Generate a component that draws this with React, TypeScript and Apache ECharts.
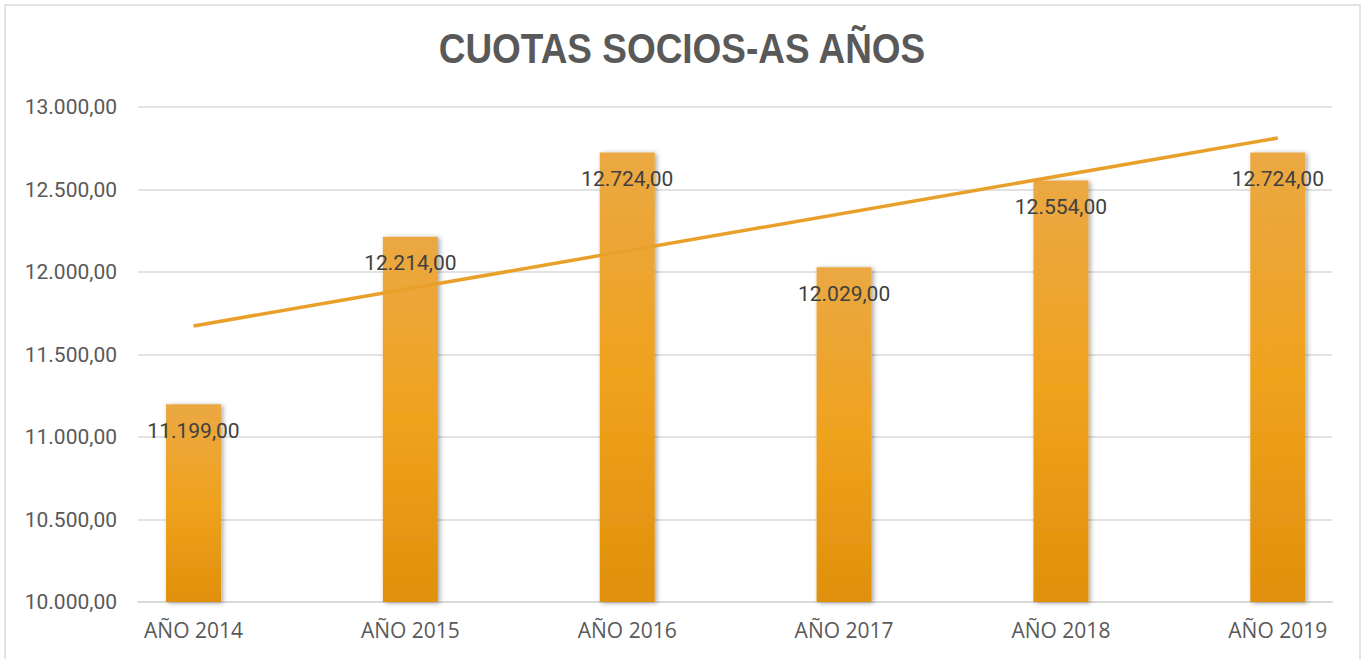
import React, { useEffect, useRef } from "react";
import * as echarts from "echarts";

const categories = ["AÑO 2014", "AÑO 2015", "AÑO 2016", "AÑO 2017", "AÑO 2018", "AÑO 2019"];
const cuotas = [11199, 12214, 12724, 12029, 12554, 12724];
// linear trend line endpoints (first and last category)
const trendPoints: [number, number][] = [
  [0, 11673],
  [5, 12812],
];
const yTicks = { min: 10000, max: 13000, interval: 500 };
const titleText = "CUOTAS SOCIOS-AS AÑOS";

const fmt = (v: number) => {
  const [i, d] = v.toFixed(2).split(".");
  return i.replace(/\B(?=(\d{3})+(?!\d))/g, ".") + "," + d;
};

export default function App() {
  const ref = useRef<HTMLDivElement>(null);
  useEffect(() => {
    if (!ref.current) return;
    const chart = echarts.init(ref.current, null, { renderer: "svg" });
    chart.setOption({
      animation: false,
      backgroundColor: "#ffffff",
      graphic: [
        {
          type: "rect",
          shape: { x: 5, y: 5, width: 1355, height: 670 },
          style: { fill: "none", stroke: "#D9D9D9", lineWidth: 1.5 },
          silent: true,
        },
        {
          type: "text",
          x: 682,
          y: 48,
          scaleX: 0.88,
          style: {
            text: titleText,
            fontFamily: "'Liberation Sans', Arial, sans-serif",
            fontWeight: "bold",
            fontSize: 42,
            fill: "#595959",
            textAlign: "center",
            textVerticalAlign: "middle",
          },
          silent: true,
        },
      ],
      grid: { left: 138, right: 32, top: 107, bottom: 57, containLabel: false },
      xAxis: {
        type: "value",
        min: -0.256,
        max: 5.25,
        splitLine: { show: false },
        axisTick: { show: false },
        axisLine: { show: true, onZero: false, lineStyle: { color: "#D9D9D9", width: 2 } },
        axisLabel: {
          customValues: [0, 1, 2, 3, 4, 5],
          formatter: (v: number) => categories[Math.round(v)] ?? "",
          fontFamily: "'Open Sans', sans-serif",
          fontSize: 21,
          color: "#595959",
          margin: 17,
        },
      },
      yAxis: {
        type: "value",
        min: yTicks.min,
        max: yTicks.max,
        interval: yTicks.interval,
        axisLine: { show: false },
        axisTick: { show: false },
        splitLine: { lineStyle: { color: "#D9D9D9", width: 1.5 } },
        axisLabel: {
          formatter: (v: number) => fmt(v),
          fontFamily: "Roboto, sans-serif",
          fontSize: 21,
          color: "#595959",
          margin: 21,
        },
      },
      series: [
        {
          type: "bar",
          data: cuotas.map((v, i) => [i, v]),
          barWidth: 55,
          itemStyle: {
            color: new echarts.graphic.LinearGradient(0, 0, 0, 1, [
              { offset: 0, color: "#EBA843" },
              { offset: 0.5, color: "#EFA21E" },
              { offset: 1, color: "#E0900B" },
            ]),
            shadowColor: "rgba(0,0,0,0.35)",
            shadowBlur: 5,
            shadowOffsetX: 2,
            shadowOffsetY: 1,
          },
          label: {
            show: true,
            position: "insideTop",
            distance: 16,
            formatter: (p: any) => fmt(p.value[1]),
            fontFamily: "Roboto, sans-serif",
            fontSize: 21,
            color: "#404040",
          },
          z: 2,
        },
        {
          type: "line",
          data: trendPoints,
          symbol: "none",
          lineStyle: { color: "#E9A02B", width: 3.5 },
          z: 3,
        },
      ],
    });
    return () => chart.dispose();
  }, []);
  return (
    <div
      ref={ref}
      style={{ position: "fixed", left: 0, top: 0, width: 1364, height: 659 }}
    />
  );
}
